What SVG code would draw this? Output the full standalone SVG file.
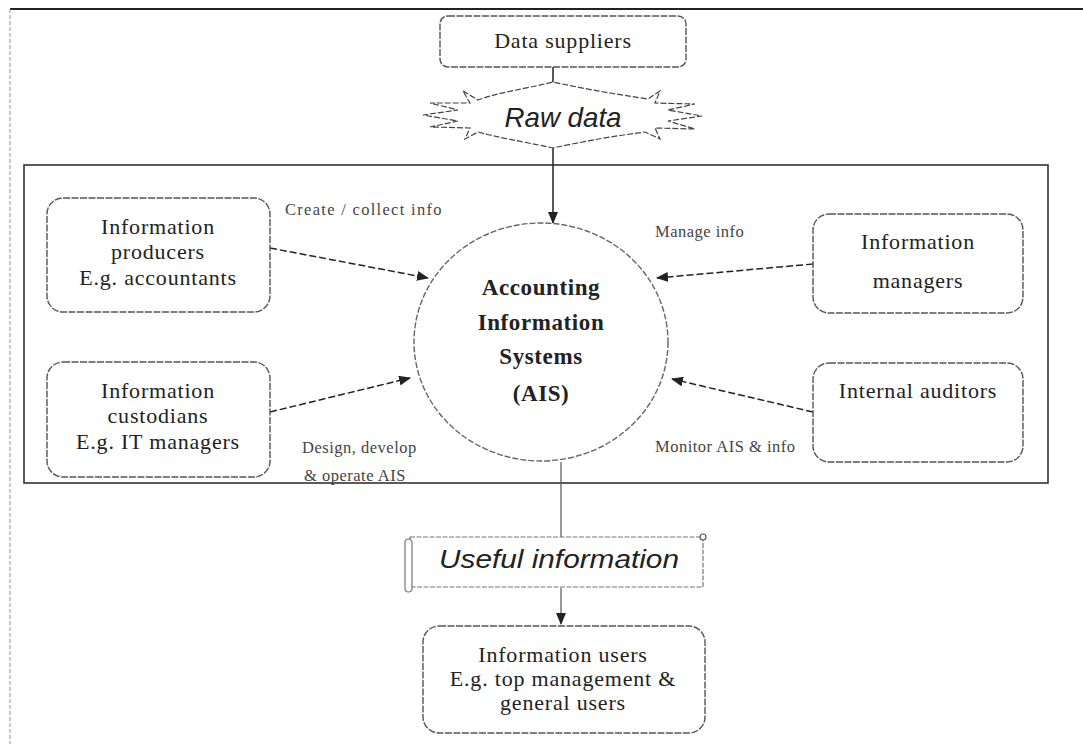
<svg xmlns="http://www.w3.org/2000/svg" width="1083" height="744" viewBox="0 0 1083 744">
  <defs>
    <marker id="arrow" viewBox="0 0 12 10" refX="11" refY="5" markerWidth="12" markerHeight="10" markerUnits="userSpaceOnUse" orient="auto">
      <path d="M0,0 L12,5 L0,10 Z" fill="#222"/>
    </marker>
    <style>
      .node { fill: #fff; stroke: #555; stroke-width: 1.4; stroke-dasharray: 7 1.5; }
      .label { font-family: "Liberation Serif", "Times New Roman", serif; font-size: 22px; fill: #222; text-anchor: middle; letter-spacing: 0.8px; }
      .core { font-family: "Liberation Serif", "Times New Roman", serif; font-size: 23px; font-weight: bold; fill: #222; text-anchor: middle; letter-spacing: 0.6px; }
      .note { font-family: "Liberation Serif", "Times New Roman", serif; font-size: 16.5px; fill: #444; letter-spacing: 0.5px; }
      .banner { font-family: "Liberation Sans", Arial, sans-serif; font-style: italic; fill: #222; text-anchor: middle; }
      .flow { fill: none; stroke: #222; stroke-width: 1.5; stroke-dasharray: 7 3; marker-end: url(#arrow); }
      .solid { fill: none; stroke: #222; stroke-width: 1.5; }
    </style>
  </defs>

  <rect width="1083" height="744" fill="#fff"/>

  <!-- page frame -->
  <line x1="10" y1="9" x2="1083" y2="9" stroke="#222" stroke-width="2"/>
  <line x1="10" y1="9" x2="10" y2="744" stroke="#999" stroke-width="1" stroke-dasharray="4 2"/>

  <!-- organisation boundary -->
  <rect id="boundary" x="24" y="165" width="1024" height="318" fill="none" stroke="#333" stroke-width="1.6"/>

  <!-- connectors -->
  <g id="connectors">
    <line class="solid" x1="553" y1="67" x2="553" y2="84"/>
    <line class="solid" x1="553" y1="147" x2="553" y2="223" marker-end="url(#arrow)"/>
    <line class="flow" x1="270" y1="248" x2="428" y2="278"/>
    <line class="flow" x1="270" y1="412" x2="410" y2="378"/>
    <line class="flow" x1="813" y1="264" x2="657" y2="278"/>
    <line class="flow" x1="813" y1="412" x2="672" y2="379"/>
    <line x1="561" y1="462" x2="561" y2="537" stroke="#555" stroke-width="1.2"/>
    <line x1="561" y1="588" x2="561" y2="624" stroke="#555" stroke-width="1.2" marker-end="url(#arrow)"/>
  </g>

  <!-- data suppliers -->
  <g id="data-suppliers">
    <rect class="node" x="440" y="16" width="246" height="51" rx="8"/>
    <text class="label" x="563" y="48" font-size="21">Data suppliers</text>
  </g>

  <!-- raw data burst -->
  <g id="raw-data">
    <path d="M463,91 L478,100 C500,92 520,90 553,82 C590,90 615,94 648,99 L660,91 L655,103 L695,104 L668,110 L702,116 L668,121 L695,129 L655,128 L660,139 L645,132 C615,136 590,140 553,148 C520,141 500,138 478,132 L465,139 L470,128 L430,127 L458,121 L423,115 L458,110 L430,103 L470,103 Z" fill="#fff" stroke="#444" stroke-width="1.2" stroke-dasharray="6 2"/>
    <text class="banner" x="563" y="127" font-size="28" textLength="117" lengthAdjust="spacingAndGlyphs">Raw data</text>
  </g>

  <!-- AIS core -->
  <g id="ais">
    <ellipse cx="541" cy="342" rx="127" ry="119" fill="#fff" stroke="#666" stroke-width="1.4" stroke-dasharray="6 2"/>
    <text class="core" x="541" y="295">Accounting</text>
    <text class="core" x="541" y="330">Information</text>
    <text class="core" x="541" y="364">Systems</text>
    <text class="core" x="541" y="401">(AIS)</text>
  </g>

  <g id="producers">
    <rect class="node" x="47" y="198" width="223" height="114" rx="16"/>
    <text class="label" x="158" y="234">Information</text>
    <text class="label" x="158" y="259">producers</text>
    <text class="label" x="158" y="285">E.g. accountants</text>
  </g>

  <g id="custodians">
    <rect class="node" x="47" y="362" width="223" height="115" rx="16"/>
    <text class="label" x="158" y="398">Information</text>
    <text class="label" x="158" y="423">custodians</text>
    <text class="label" x="158" y="449">E.g. IT managers</text>
  </g>

  <g id="managers">
    <rect class="node" x="813" y="214" width="210" height="99" rx="16"/>
    <text class="label" x="918" y="249">Information</text>
    <text class="label" x="918" y="288">managers</text>
  </g>

  <g id="auditors">
    <rect class="node" x="813" y="363" width="210" height="99" rx="16"/>
    <text class="label" x="918" y="398">Internal auditors</text>
  </g>

  <!-- role labels -->
  <g id="role-labels">
    <text class="note" x="285" y="215" textLength="157" lengthAdjust="spacing">Create / collect info</text>
    <text class="note" x="655" y="237">Manage info</text>
    <text class="note" x="302" y="453">Design, develop</text>
    <text class="note" x="304" y="481">&amp; operate AIS</text>
    <text class="note" x="655" y="452">Monitor AIS &amp; info</text>
  </g>

  <!-- useful information scroll -->
  <g id="useful-information">
    <rect x="410" y="537" width="293" height="50" fill="#fff" stroke="#777" stroke-width="1.2" stroke-dasharray="5 1.5"/>
    <rect x="405" y="539" width="7" height="53" rx="3.5" fill="#fff" stroke="#777" stroke-width="1.2"/>
    <circle cx="703" cy="537" r="3" fill="#fff" stroke="#555" stroke-width="1.2"/>
    <text class="banner" x="559" y="568" font-size="25" textLength="240" lengthAdjust="spacingAndGlyphs">Useful information</text>
  </g>

  <g id="users">
    <rect class="node" x="423" y="626" width="282" height="107" rx="16"/>
    <text class="label" x="563" y="662">Information users</text>
    <text class="label" x="563" y="686">E.g. top management &amp;</text>
    <text class="label" x="563" y="710">general users</text>
  </g>
</svg>
